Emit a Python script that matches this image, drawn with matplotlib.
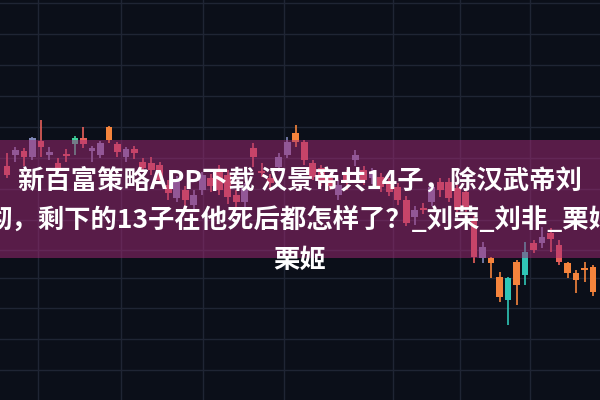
import matplotlib
matplotlib.use("Agg")
import matplotlib.pyplot as plt
import numpy as np

# candle data (price units, higher = up)
opens = [234, 245, 249, 243, 259, 245, 237, 246, 256, 262, 249, 245, 273, 256, 243, 251,
         238, 237, 235, 215, 202, 210, 195, 210, 222, 230, 225, 205, 198, 252, 229, 222,
         233, 245, 267, 258, 237, 232, 222, 205, 225, 240, 230, 222, 223, 218, 213, 200,
         183, 192, 198, 218, 218, 212, 208, 180, 142, 142, 123, 100, 138, 125, 157, 157,
         167, 155, 137, 127, 131, 133]
closes = [225, 250, 243, 262, 253, 248, 232, 244, 262, 256, 252, 257, 260, 248, 251, 247,
          232, 230, 220, 207, 220, 200, 205, 225, 214, 210, 203, 198, 212, 243, 227, 217,
          243, 258, 258, 240, 223, 218, 214, 215, 217, 245, 220, 228, 213, 208, 200, 177,
          190, 190, 213, 210, 202, 190, 193, 143, 153, 137, 103, 122, 115, 148, 150, 163,
          161, 138, 127, 120, 130, 108]
highs = [247, 253, 252, 263, 280, 253, 242, 251, 264, 273, 254, 259, 274, 258, 253, 254,
         242, 243, 238, 220, 224, 214, 210, 228, 226, 235, 230, 210, 217, 257, 237, 226,
         247, 263, 275, 260, 240, 235, 226, 220, 230, 250, 234, 232, 227, 222, 217, 204,
         194, 197, 217, 222, 222, 215, 211, 184, 158, 143, 128, 123, 140, 158, 160, 173,
         172, 160, 138, 130, 138, 135]
lows = [222, 238, 234, 240, 243, 240, 228, 238, 245, 252, 238, 242, 257, 243, 238, 241,
        228, 225, 216, 200, 198, 192, 188, 205, 208, 205, 196, 192, 193, 233, 223, 212,
        228, 242, 253, 235, 220, 214, 210, 200, 210, 234, 215, 216, 208, 204, 195, 174,
        175, 186, 194, 203, 198, 185, 188, 137, 137, 122, 98, 75, 95, 115, 147, 152,
        148, 135, 122, 107, 118, 104]
kinds = list("rbrbrbrrgrbborbr" "rrrrbrbbrrrrbrrr" "bbor" "rrrbrbrbrrrr" "brbrrrrrbooto"
             "trbrroooo")

palette = {"r": "#e8605a", "o": "#f5843c", "b": "#7f86b6", "t": "#2fc6b6", "g": "#3fd09a"}

line1 = "新百富策略APP下载 汉景帝共14子，除汉武帝刘"
line2 = "彻，剩下的13子在他死后都怎样了？_刘荣_刘非_栗姬"
line3 = "栗姬"

grid_x = [38, 121, 203, 284, 393, 460, 530]
grid_y = [3, 34, 65, 96, 127, 158, 189, 220, 250, 278, 308, 339, 370]

fig = plt.figure(figsize=(6, 4), dpi=100)
fig.patch.set_facecolor("#0b0f19")

# background grid in pixel coords
bg = fig.add_axes([0, 0, 1, 1])
bg.set_xlim(0, 600)
bg.set_ylim(400, 0)
bg.axis("off")
for gx in grid_x:
    bg.axvline(gx, color="#1f2534", lw=1)
for gy in grid_y:
    bg.axhline(gy, color="#1f2534", lw=1)

# candles
ax = fig.add_axes([0, 0, 1, 1])
ax.patch.set_alpha(0)
ax.axis("off")
n = len(opens)
idx = np.arange(n)
o = np.array(opens, dtype=float)
c = np.array(closes, dtype=float)
cols = [palette[k] for k in kinds[:n]]
ax.vlines(idx, lows, highs, colors=cols, lw=1.2, zorder=2)
ax.bar(idx, np.maximum(np.abs(c - o), 2), bottom=np.minimum(o, c), width=0.8,
       color=cols, zorder=2)
step = 586 / (n - 1)
ax.set_xlim(-7 / step, (600 - 7) / step)
ax.set_ylim(0, 400)

# banner
ax.axhspan(142, 260, color="#a62a78", alpha=0.5, lw=0, zorder=3)

fam = ["Noto Sans CJK SC", "DejaVu Sans"]
for txt, yy in [(line1, 181), (line2, 220), (line3, 260)]:
    fig.text(0.5, 1 - yy / 400, txt, ha="center", va="center", color="white",
             fontsize=19, fontweight="bold", family=fam, zorder=5)

fig.savefig("out.png", dpi=100, facecolor=fig.get_facecolor())
